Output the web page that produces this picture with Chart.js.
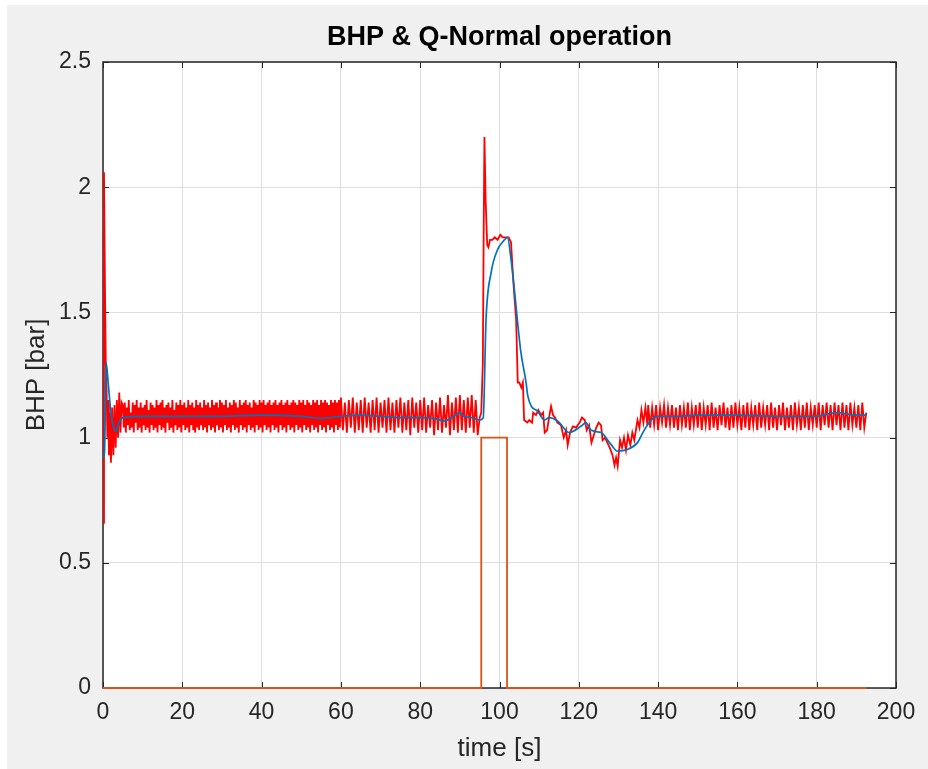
<!DOCTYPE html>
<html>
<head>
<meta charset="utf-8">
<script src="https://cdn.jsdelivr.net/npm/chart.js@4.4.1/dist/chart.umd.min.js"></script>
<style>
  body { margin: 0; background: #fff; }
  #wrap { position: absolute; left: 7px; top: 5px; width: 921px; height: 764px; background: #f0f0f0; }
</style>
</head>
<body>
<div id="wrap"><canvas id="chart" width="921" height="764"></canvas></div>
<script>
// === Data ===
const TITLE = "BHP & Q-Normal operation";
const X_TICKS = [0, 20, 40, 60, 80, 100, 120, 140, 160, 180, 200];
const Y_TICKS = [0, 0.5, 1, 1.5, 2, 2.5];

// Q: on/off step
const Q_T = [0, 95.4, 95.4, 101.9, 101.9, 192.6];
const Q_V = [0, 0, 1, 1, 0, 0];

// BHP filtered (blue)
const BLUE_T = [0.1, 0.4, 0.8, 1.3, 2.0, 2.7, 3.3, 4.0, 5.0, 10, 20, 30, 40, 50, 55, 60, 65, 70, 75, 80, 84, 86, 88, 90, 91, 93, 95,
  95.9, 96.6, 97.9, 99.5, 101, 102, 103, 103.7, 104.5, 105.4, 106.7, 107.1, 108, 109.6, 111.3, 112.5, 114.7, 117.6, 120.6,
  121.8, 123, 125.6, 128.1, 129.8, 132.3, 134.8, 136.5, 138.2, 139.9, 145, 150, 160, 170, 180, 182.8, 185, 190, 192.6];
const BLUE_V = [0.92, 0.95, 1.30, 1.22, 1.10, 1.04, 1.025, 1.06, 1.08, 1.085, 1.085, 1.085, 1.09, 1.085, 1.077, 1.085, 1.09, 1.085, 1.08, 1.08, 1.075, 1.066, 1.08, 1.10, 1.085, 1.08, 1.07,
  1.08, 1.47, 1.66, 1.75, 1.785, 1.80, 1.70, 1.60, 1.47, 1.34, 1.22, 1.17, 1.126, 1.106, 1.07, 1.08, 1.066, 1.02, 1.046,
  1.06, 1.03, 1.02, 0.973, 0.946, 0.953, 0.98, 1.03, 1.07, 1.085, 1.085, 1.09, 1.09, 1.085, 1.085, 1.095, 1.10, 1.09, 1.09];

// BHP measured (red): start-up transient
const RED_START_T = [0.0, 0.25, 0.5, 0.7, 0.9, 1.1, 1.3, 1.5, 1.8, 2.0, 2.3, 2.6, 2.9, 3.2, 3.5, 3.8, 4.1, 4.4, 4.7];
const RED_START_V = [0.66, 2.06, 1.60, 1.30, 1.20, 1.00, 1.15, 0.93, 1.10, 0.90, 1.12, 0.93, 1.13, 0.96, 1.15, 1.00, 1.18, 1.02, 1.14];

// red: dense band, one sample every 0.25 s from t = 5 s
const RED_BAND1_T0 = 5, RED_BAND1_DT = 0.25;
const RED_BAND1_V = [
  1.13,1.04,1.14,1.02,1.12,1.05,1.15,1.03,1.10,1.04,1.14,1.02,1.13,1.06,1.15,1.03,1.12,1.04,1.14,1.02,
  1.12,1.05,1.13,1.03,1.15,1.04,1.11,1.02,1.14,1.05,1.13,1.03,1.12,1.04,1.15,1.02,1.13,1.05,1.14,1.03,
  1.15,1.04,1.12,1.02,1.13,1.06,1.14,1.03,1.12,1.04,1.15,1.02,1.11,1.05,1.14,1.03,1.13,1.04,1.15,1.02,
  1.13,1.05,1.14,1.03,1.12,1.04,1.15,1.02,1.13,1.05,1.14,1.03,1.12,1.02,1.15,1.04,1.13,1.03,1.14,1.05,
  1.12,1.03,1.15,1.04,1.13,1.02,1.14,1.05,1.12,1.03,1.15,1.04,1.13,1.02,1.14,1.05,1.12,1.03,1.15,1.04,
  1.14,1.02,1.13,1.05,1.15,1.03,1.12,1.04,1.14,1.02,1.13,1.05,1.15,1.03,1.14,1.04,1.12,1.02,1.15,1.05,
  1.13,1.03,1.14,1.04,1.15,1.02,1.13,1.05,1.14,1.03,1.12,1.04,1.15,1.02,1.14,1.05,1.13,1.03,1.15,1.04,
  1.14,1.02,1.15,1.05,1.13,1.03,1.14,1.04,1.15,1.02,1.13,1.05,1.14,1.03,1.15,1.04,1.13,1.02,1.14,1.05,
  1.15,1.03,1.13,1.04,1.14,1.02,1.15,1.05,1.13,1.03,1.14,1.04,1.15,1.02,1.14,1.05,1.13,1.03,1.15,1.04,
  1.14,1.02,1.15,1.05,1.13,1.03,1.15,1.04,1.14,1.02,1.13,1.05,1.15,1.03,1.14,1.04,1.15,1.02,1.13,1.05,
  1.15,1.03,1.14,1.04,1.15,1.02,1.14,1.05,1.13,1.03,1.15,1.04,1.14,1.02,1.15,1.05,1.14,1.03,1.15,1.04
];

// red: band before the pulse, one sample every 0.5 s from t = 60 s
const RED_BAND1B_T0 = 60, RED_BAND1B_DT = 0.5;
const RED_BAND1B_V = [
  1.16,1.03,1.14,1.02,1.15,1.04,1.16,1.02,1.14,1.03,
  1.15,1.02,1.16,1.04,1.14,1.02,1.15,1.03,1.16,1.02,
  1.14,1.04,1.15,1.02,1.16,1.03,1.14,1.02,1.15,1.04,
  1.16,1.02,1.14,1.03,1.15,1.01,1.16,1.04,1.14,1.02,
  1.15,1.03,1.16,1.02,1.13,1.04,1.15,1.01,1.14,1.03,
  1.16,1.02,1.13,1.04,1.17,1.01,1.14,1.03,1.16,1.02,
  1.17,1.03,1.15,1.02,1.16,1.04,1.17,1.02,1.15,1.01,
  1.08
];

// red: pulse and recovery
const RED_PULSE_T = [95.4, 95.8, 96.0, 96.2, 96.5, 96.9, 97.2, 97.6, 98.2, 98.8, 99.5, 100.2, 100.8, 101.5, 102.3, 102.9, 103.5, 104.2,
  104.6, 105.0, 105.5, 105.9, 106.2, 107.0, 107.5, 108.2, 108.5, 109.2, 109.8, 110.5, 111.0, 111.4, 112.0, 112.5, 113.0, 113.5,
  114.0, 114.6, 115.5, 116.2, 116.8, 117.2, 117.8, 118.5, 119.3, 120.2, 120.8, 121.5, 122.0, 122.6, 123.2, 123.8, 124.4, 125.0,
  125.6, 126.0, 126.6, 127.2, 127.8, 128.5, 129.0, 129.4, 129.8, 130.4, 130.9, 131.4, 131.9, 132.4, 133.0, 133.5, 134.0, 134.8,
  135.3, 135.8, 136.3, 136.8, 137.3];
const RED_PULSE_V = [1.10, 1.30, 1.80, 2.20, 1.95, 1.77, 1.76, 1.79, 1.79, 1.80, 1.79, 1.81, 1.80, 1.80, 1.80, 1.78, 1.62, 1.47,
  1.22, 1.22, 1.20, 1.22, 1.07, 1.06, 1.07, 1.06, 1.10, 1.09, 1.11, 1.09, 1.10, 1.02, 1.03, 1.08, 1.125, 1.09,
  1.08, 1.06, 1.05, 1.00, 1.03, 0.97, 1.02, 1.045, 1.04, 1.06, 1.08, 1.07, 1.03, 1.05, 0.98, 1.01, 1.04, 1.06,
  1.05, 0.99, 1.00, 0.98, 0.96, 0.93, 0.89, 0.92, 0.886, 0.99, 0.96, 1.00, 0.95, 1.01, 0.97, 1.02, 0.99, 1.07,
  1.04, 1.11, 1.06, 1.12, 1.05];

// red: band after recovery, one sample every 0.5 s from t = 137.5 s
const RED_BAND2_T0 = 137.5, RED_BAND2_DT = 0.5;
const RED_BAND2_V = [
  1.13,1.04,1.12,1.05,1.13,1.03,1.12,1.06,1.13,1.04,
  1.12,1.05,1.13,1.04,1.12,1.03,1.13,1.05,1.12,1.04,
  1.14,1.03,1.12,1.05,1.13,1.04,1.14,1.03,1.12,1.05,
  1.13,1.03,1.14,1.04,1.12,1.03,1.13,1.05,1.14,1.04,
  1.12,1.03,1.13,1.04,1.14,1.05,1.12,1.03,1.13,1.04,
  1.14,1.03,1.12,1.05,1.13,1.03,1.14,1.04,1.12,1.05,
  1.13,1.03,1.14,1.04,1.12,1.03,1.13,1.05,1.14,1.03,
  1.12,1.04,1.13,1.03,1.14,1.05,1.12,1.03,1.13,1.04,
  1.14,1.03,1.12,1.05,1.13,1.04,1.14,1.03,1.13,1.05,
  1.14,1.04,1.13,1.03,1.14,1.05,1.13,1.03,1.14,1.04,
  1.13,1.03,1.14,1.05,1.12,1.04,1.13,1.03,1.14,1.04,
  1.10
];

// === Build point lists ===
const pts = (ts, vs) => ts.map((t, i) => ({ x: t, y: vs[i] }));
const band = (t0, dt, vs) => vs.map((v, i) => ({ x: t0 + i * dt, y: v }));

const redData = [].concat(
  pts(RED_START_T, RED_START_V),
  band(RED_BAND1_T0, RED_BAND1_DT, RED_BAND1_V),
  band(RED_BAND1B_T0, RED_BAND1B_DT, RED_BAND1B_V),
  pts(RED_PULSE_T, RED_PULSE_V),
  band(RED_BAND2_T0, RED_BAND2_DT, RED_BAND2_V)
);

const FONT = "'Liberation Sans', Arial, Helvetica, sans-serif";

// === MATLAB-ish axes: white plot area, box, inside ticks, centred title ===
const axesBox = {
  id: "axesBox",
  beforeDraw(chart) {
    const { ctx, chartArea: a } = chart;
    ctx.save();
    ctx.fillStyle = "#ffffff";
    ctx.fillRect(a.left, a.top, a.right - a.left, a.bottom - a.top);
    ctx.fillStyle = "#000";
    ctx.font = "bold 27px " + FONT;
    ctx.textAlign = "center";
    ctx.textBaseline = "middle";
    ctx.fillText(TITLE, (a.left + a.right) / 2, 33);
    ctx.restore();
  },
  beforeDatasetsDraw(chart) {
    const { ctx, chartArea: a, scales } = chart;
    ctx.save();
    ctx.strokeStyle = "#262626";
    ctx.lineWidth = 1.5;
    ctx.strokeRect(a.left, a.top, a.right - a.left, a.bottom - a.top);
    ctx.lineWidth = 1;
    const L = 6;
    ctx.beginPath();
    X_TICKS.forEach(v => {
      const x = Math.round(scales.x.getPixelForValue(v)) + 0.5;
      ctx.moveTo(x, a.bottom); ctx.lineTo(x, a.bottom - L);
      ctx.moveTo(x, a.top); ctx.lineTo(x, a.top + L);
    });
    Y_TICKS.forEach(v => {
      const y = Math.round(scales.y.getPixelForValue(v)) + 0.5;
      ctx.moveTo(a.left, y); ctx.lineTo(a.left + L, y);
      ctx.moveTo(a.right, y); ctx.lineTo(a.right - L, y);
    });
    ctx.stroke();
    ctx.restore();
  }
};

new Chart(document.getElementById("chart"), {
  type: "line",
  data: {
    datasets: [
      { label: "Q", data: pts(Q_T, Q_V), borderColor: "#D95319", borderWidth: 1.8, clip: false, order: 3 },
      { label: "BHP", data: redData, borderColor: "#FF0000", borderWidth: 1.8, order: 2 },
      { label: "BHP filtered", data: pts(BLUE_T, BLUE_V), borderColor: "#0072BD", borderWidth: 1.7, cubicInterpolationMode: "monotone", order: 1 }
    ]
  },
  options: {
    responsive: false,
    animation: false,
    devicePixelRatio: 1,
    parsing: false,
    elements: { point: { radius: 0 }, line: { tension: 0 } },
    layout: { padding: { left: 0, right: 32, top: 57, bottom: 0 } },
    plugins: {
      legend: { display: false },
      tooltip: { enabled: false },
      title: { display: false }
    },
    scales: {
      x: {
        type: "linear",
        min: 0, max: 200,
        afterBuildTicks: (s) => { s.ticks = X_TICKS.map(v => ({ value: v })); },
        afterFit: (s) => { s.height = 81; },
        grid: { color: "#dedede", drawTicks: false },
        border: { display: false },
        ticks: { color: "#262626", font: { family: FONT, size: 23 }, padding: 11, maxRotation: 0 },
        title: { display: true, text: "time [s]", color: "#262626", font: { family: FONT, size: 26 }, padding: { top: 0, bottom: 5 } }
      },
      y: {
        type: "linear",
        min: 0, max: 2.5,
        afterBuildTicks: (s) => { s.ticks = Y_TICKS.map(v => ({ value: v })); },
        afterFit: (s) => { s.width = 96; },
        grid: { color: "#dedede", drawTicks: false },
        border: { display: false },
        ticks: { color: "#262626", font: { family: FONT, size: 23 }, padding: 12, callback: (v) => String(v) },
        title: { display: true, text: "BHP [bar]", color: "#262626", font: { family: FONT, size: 26 }, padding: { top: 14, bottom: 0 } }
      }
    }
  },
  plugins: [axesBox]
});
</script>
</body>
</html>
